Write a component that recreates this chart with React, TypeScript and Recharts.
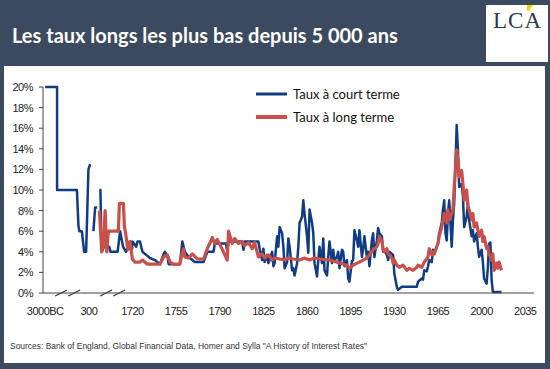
import { LineChart, Line, XAxis, YAxis, ReferenceLine, Legend } from 'recharts'

// x axis: broken scale, 3000BC -> 300 -> 1720, then 35 years per tick
const xTickLabels = ['3000BC', '300', '1720', '1755', '1790', '1825', '1860', '1895', '1930', '1965', '2000', '2035']
const yTicks = [0, 2, 4, 6, 8, 10, 12, 14, 16, 18, 20]

// short term rates (Taux à court terme)
const shortYears = [
  -3000, -2100, -2100, -600, -485, -410, -228, -55, 97, 270, 343, 400, 449, 505, 570, 610, 644, 677, 716, 797, 960, 1008, 1236, 1317, 1414, 1512, 1642, 1707,
  1720, 1723, 1724, 1726, 1728, 1731, 1734, 1738, 1742, 1745, 1746, 1748, 1749, 1758, 1760, 1762, 1765, 1768, 1770, 1777, 1780, 1785, 1786, 1795, 1796, 1797, 1808, 1809, 1810, 1821, 1822, 1824, 1825, 1826, 1828, 1829,
  1830, 1832, 1833, 1834, 1836, 1837, 1838, 1840, 1841, 1842, 1844, 1845, 1846, 1848, 1849, 1850, 1852, 1853, 1854, 1856, 1857, 1858, 1860, 1861, 1862, 1864, 1865, 1866, 1868, 1869, 1870, 1872, 1873, 1874, 1876, 1877, 1878, 1880, 1881, 1882, 1884, 1885, 1886, 1888, 1889, 1890, 1892, 1893, 1894, 1896, 1897, 1898,
  1900, 1901, 1902, 1904, 1905, 1906, 1908, 1909, 1910, 1912, 1913, 1914, 1916, 1917, 1918, 1920, 1921, 1922, 1924, 1925, 1926, 1929, 1930, 1932, 1933, 1936, 1948, 1949, 1952, 1953, 1954, 1956, 1957, 1958,
  1960, 1961, 1962, 1964, 1965, 1966, 1968, 1969, 1970, 1971, 1972, 1973, 1974, 1975, 1976, 1977, 1978, 1980, 1981, 1982, 1984, 1985, 1986, 1988, 1989, 1990, 1992, 1993, 1994, 1996, 1997, 1998, 2000, 2001, 2002, 2004, 2005, 2006, 2007, 2008, 2009, 2016,
]
const shortRates = [
  20, 20, 10, 10, 6.5, 6, 6, 4, 4, 12, 12.5, null, 6, 8.3, 8.3, null, 10, 10, 4, 4.5, 4.5, 4, 4, 6, 4.5, 4, 5, 4.3,
  5, 4.5, 5, 5, 4, 3.7, 3.4, 3.2, 2.8, 3.8, 4, 3.6, 2.8, 2.8, 5, 4, 3.5, 3.2, 3, 3, 4, 4, 4.8, 4.8, 4, 5, 5, 4.2, 5, 5, 4.3, 3.2, 4.3, 3, 3.7, 2.9,
  3.2, 4, 2.6, 2.9, 5.5, 4.5, 6.4, 5.8, 4.5, 2.4, 3, 5.3, 4.5, 2.2, 2.4, 1.7, 2.9, 4.5, 6.8, 7.4, 9, 7.7, 5.5, 3.9, 8.1, 6.8, 5.8, 2.9, 1.6, 3.2, 4.5, 2.9, 5.3, 2.2, 1.7, 3.5, 5, 2.9, 4.2, 3.2, 3.5, 4, 2.4, 4.2, 4, 2.6, 3.2, 1.4, 1.1, 3.1, 3.2, 6.1,
  5.1, 4.5, 6.1, 3.5, 4.3, 5.5, 3.5, 4, 2.6, 5.1, 5.8, 3.5, 5.1, 6.3, 5.8, 5.5, 4, 4.2, 3.7, 3.2, 4, 3.7, 1.9, 0.6, 0.3, 0.6, 0.6, 1.1, 1.4, 1.3, 2.2, 2.1, 2.6, 3.2,
  3, 4.2, 3.8, 4.5, 4.8, 5.8, 6.8, 8.1, 9, 5.8, 5.1, 7.7, 9, 6.8, 4.5, 7.1, 8.7, 16.3, 13.9, 10.3, 10.6, 9.4, 6.4, 7.4, 8.7, 7.1, 5.5, 6.1, 5, 5.8, 4.5, 3.5, 4.2, 3, 1.4, 0.9, 2.5, 4.8, 4.9, 1.3, 0.1, 0.1,
]

// long term rates (Taux à long terme)
const longYears = [
  644, 722, 774, 830, 885, 937, 1262, 1294, 1424, 1457, 1512, 1567, 1642, 1715,
  1722, 1726, 1728, 1732, 1742, 1745, 1748, 1750, 1753, 1758, 1760, 1761, 1762, 1765, 1768, 1772, 1777, 1780, 1782, 1784, 1786, 1788, 1791, 1796, 1797, 1800, 1802, 1805, 1808, 1810, 1813, 1816, 1818, 1821, 1824, 1826, 1829,
  1832, 1834, 1838, 1842, 1845, 1849, 1854, 1858, 1862, 1866, 1870, 1878, 1884, 1892, 1894, 1897, 1900,
  1902, 1905, 1908, 1910, 1913, 1916, 1917, 1918, 1920, 1921, 1922, 1924, 1925, 1926, 1928, 1929, 1930, 1932, 1934, 1937, 1940, 1942, 1945, 1948, 1949, 1952, 1954, 1957, 1958,
  1960, 1961, 1962, 1964, 1965, 1966, 1968, 1969, 1970, 1972, 1973, 1974, 1976, 1977, 1978, 1980, 1981, 1982, 1984, 1985, 1986, 1988, 1989, 1990, 1992, 1993, 1994, 1996, 1997, 1998, 2000, 2001, 2002, 2004, 2005, 2006, 2008, 2009, 2010, 2012, 2013, 2014, 2016,
]
const longRates = [
  8, 4, 4.5, 8, 4, 6, 6, 8.7, 8.7, 6.5, 5.5, 4.2, 5, 3.3,
  3, 3, 3.2, 2.8, 2.8, 3.5, 3.7, 3, 2.8, 2.8, 4, 4.3, 3.5, 3.4, 3.8, 3.3, 3.3, 4.3, 4.8, 5.4, 4.8, 5.2, 4.5, 3.2, 6, 4.8, 5.3, 4.8, 5, 4.6, 4.9, 4.3, 4.9, 3.5, 3.8, 3.4, 3.7,
  3.2, 3.4, 3.3, 3.2, 3.4, 3.3, 3.2, 3.4, 3.2, 3.4, 3.3, 3.2, 3, 2.7, 2.4, 2.7, 2.9,
  3, 3.2, 3.4, 3.7, 4.2, 4.5, 4.8, 5.5, 5, 4.3, 4, 4.3, 3.8, 3.7, 3.4, 2.9, 3.2, 2.7, 2.5, 2.7, 2.2, 2.4, 2.2, 2.5, 2.7, 2.5, 3, 3.5, 4.3,
  3.7, 4, 3.8, 4.5, 4.8, 5.5, 6.4, 7.1, 7.7, 6.8, 8.1, 7.1, 7.7, 8.1, 10.3, 13.9, 12.9, 11.3, 11.9, 10.6, 9, 10, 8.4, 8.1, 7.1, 7.7, 6.4, 6.8, 6.1, 5.5, 6.1, 5, 5.5, 4.3, 4.5, 3.8, 3.2, 3.8, 2.2, 2.9, 2.4, 3, 2.2,
]

// year -> position on the broken axis (one unit per tick)
function pos(year: number) {
  if (year <= 300) return (year + 3000) / 3300
  if (year <= 1720) return 1 + (year - 300) / 1420
  return 2 + (year - 1720) / 35
}

const shortData = shortYears.map((y, i) => ({ pos: pos(y), rate: shortRates[i] }))
const longData = longYears.map((y, i) => ({ pos: pos(y), rate: longRates[i] }))

// axis break marks "//" (in axis units)
const breaks = [
  [0.23, 0.5],
  [0.53, 0.8],
  [1.26, 1.53],
  [1.56, 1.83],
]

const BLUE = '#0f3c82'
const RED = '#c8504b'
const BG = '#3b4a5e'
const tickFont = { fontFamily: '"Liberation Sans", Arial, sans-serif', fontSize: 11, fill: '#222', letterSpacing: -0.5 }

function LegendBox({ payload }: any) {
  return (
    <div style={{ fontFamily: 'Lato, sans-serif', fontSize: 13, color: '#111' }}>
      {(payload || []).map((p: any) => (
        <div key={p.value} style={{ display: 'flex', alignItems: 'center', height: 23 }}>
          <svg width={31} height={6}>
            <line x1={0} y1={3} x2={31} y2={3} stroke={p.color} strokeWidth={p.color === RED ? 4 : 3} />
          </svg>
          <span style={{ marginLeft: 6 }}>{p.value}</span>
        </div>
      ))}
    </div>
  )
}

export default function App() {
  return (
    <div style={{ position: 'relative', width: 550, height: 369, background: BG, overflow: 'hidden' }}>
      <style>{'body{margin:0}'}</style>
      <div
        style={{
          position: 'absolute',
          left: 12,
          top: 24,
          fontFamily: 'Lato, sans-serif',
          fontWeight: 700,
          fontSize: 20,
          lineHeight: '22px',
          color: '#fff',
          whiteSpace: 'nowrap',
        }}
      >
        Les taux longs les plus bas depuis 5 000 ans
      </div>
      <div style={{ position: 'absolute', left: 486, top: 5, width: 62, height: 57, background: '#fff' }}>
        <svg width={62} height={57}>
          <text x={7} y={23} fontFamily='"Liberation Serif", serif' fontSize={23} fill="#2d3b4e" letterSpacing={1}>
            LCA
          </text>
          <polygon points="41,0 47,0 43,6 41,6" fill="#f2d600" />
        </svg>
      </div>
      <div style={{ position: 'absolute', left: 4, top: 66, width: 541, height: 297, background: '#fff' }}>
        <LineChart width={541} height={257} margin={{ top: 21, right: 11, left: 0, bottom: 0 }}>
          <XAxis
            type="number"
            dataKey="pos"
            domain={[-0.05, 11.2]}
            ticks={xTickLabels.map((_, i) => i)}
            tickFormatter={(v: number) => xTickLabels[v] ?? ''}
            allowDataOverflow
            height={30}
            tickLine={false}
            tickMargin={8}
            axisLine={{ stroke: '#444' }}
            tick={tickFont}
            interval={0}
          />
          <YAxis
            type="number"
            domain={[0, 20]}
            ticks={yTicks}
            tickFormatter={(v: number) => `${v}%`}
            width={39}
            tickSize={4}
            tickMargin={6}
            axisLine={{ stroke: '#444' }}
            tickLine={{ stroke: '#444' }}
            tick={tickFont}
            interval={0}
          />
          <Legend
            layout="vertical"
            align="center"
            verticalAlign="middle"
            wrapperStyle={{ left: 252, top: 16, width: 'auto' }}
            content={LegendBox}
          />
          <Line
            data={shortData}
            dataKey="rate"
            name="Taux à court terme"
            type="linear"
            stroke={BLUE}
            strokeWidth={2.5}
            dot={false}
            strokeLinejoin="round"
            isAnimationActive={false}
          />
          <Line
            data={longData}
            dataKey="rate"
            name="Taux à long terme"
            type="linear"
            stroke={RED}
            strokeWidth={3.2}
            dot={false}
            strokeLinejoin="round"
            isAnimationActive={false}
          />
          {breaks.map(([a, b], i) => (
            <ReferenceLine
              key={i}
              segment={[
                { x: a, y: -0.3 },
                { x: b, y: 0.3 },
              ]}
              stroke="#333"
              strokeWidth={1.2}
              ifOverflow="visible"
            />
          ))}
        </LineChart>
        <div
          style={{
            position: 'absolute',
            left: 6,
            top: 274,
            fontFamily: '"Liberation Sans", Arial, sans-serif',
            fontSize: 9.5,
            color: '#333',
            whiteSpace: 'nowrap',
            transform: 'scaleX(0.89)',
            transformOrigin: 'left center',
          }}
        >
          Sources: Bank of England, Global Financial Data, Homer and Sylla "A History of Interest Rates"
        </div>
      </div>
    </div>
  )
}
